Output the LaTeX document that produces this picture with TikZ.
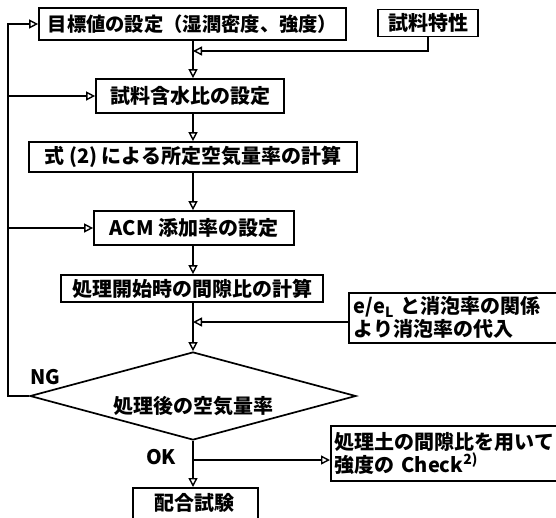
\documentclass[tikz,border=0pt]{standalone}
\usepackage{fontspec}
\setmainfont{Noto Sans CJK JP}
\usetikzlibrary{arrows.meta,shapes.geometric}
\begin{document}
\begin{tikzpicture}[x=1pt,y=-1pt,
 every node/.style={font=\fontsize{20}{23}\selectfont\bfseries},
 box/.style={draw, line width=1.7pt, inner sep=0pt, align=center},
 conn/.style={line width=1.7pt},
 arr/.style={conn,-{Triangle[open,length=9pt,width=9pt,line width=1.4pt]}},
 lbl/.style={inner sep=0pt}]
\useasboundingbox (0,0) rectangle (556,517);
\clip (0,0) rectangle (556,517);
\coordinate (m) at (193,0);
\coordinate (lft) at (8,0);
\node[box, minimum width=307pt, minimum height=32pt, font=\fontsize{19.3}{23}\selectfont\bfseries] (b1) at (192.5,24) {目標値の設定（湿潤密度、強度）};
\node[box, minimum width=100pt, minimum height=27pt] (spec) at (428,23) {試料特性};
\node[box, minimum width=188pt, minimum height=34pt] (b2) at (190,96) {試料含水比の設定};
\node[box, minimum width=328pt, minimum height=30pt] (b3) at (193,157) {式 (2) による所定空気量率の計算};
\node[box, minimum width=200pt, minimum height=34pt] (b4) at (194,228) {ACM 添加率の設定};
\node[box, minimum width=262pt, minimum height=27pt] (b5) at (192,288.5) {処理開始時の間隙比の計算};
\node[box, anchor=north west, text width=212pt, inner xsep=5pt, minimum height=50pt, align=left] (b6) at (348,292) {e/e\textsubscript{L} と消泡率の関係\\より消泡率の代入};
\node[draw, diamond, line width=1.7pt, minimum width=326pt, minimum height=88pt, aspect=3.7, inner sep=0pt] (d) at (193,396) {};
\node[lbl] (dt) at (193,406) {処理後の空気量率};
\node[box, anchor=north west, text width=230pt, inner xsep=4pt, minimum height=55pt, align=left] (b7) at (330,425) {処理土の間隙比を用いて\\強度の Check\textsuperscript{2)}};
\node[box, anchor=north west, minimum width=125pt, minimum height=45pt] (b8) at (132,487) {};
\node[lbl] (b8t) at (194.5,503) {配合試験};
\node[lbl] (ng) at (45,377) {NG};
\node[lbl] (ok) at (161,457) {OK};
\coordinate (j1) at (193,51);
\coordinate (j2) at (193,322);
\coordinate (j3) at (193,460);
\draw[arr] (b1.south -| m) -- (b2.north -| m);
\draw[arr] (spec.south) |- (j1);
\draw[arr] (b2.south -| m) -- (b3.north -| m);
\draw[arr] (b3.south -| m) -- (b4.north -| m);
\draw[arr] (b4.south -| m) -- (b5.north -| m);
\draw[arr] (b5.south -| m) -- (d.north);
\draw[arr] (b6.west |- j2) -- (j2);
\draw[arr] (d.west) -- (d.west -| lft) -- (lft |- b1.west) -- (b1.west);
\draw[arr] (lft |- b2.west) -- (b2.west);
\draw[arr] (lft |- b4.west) -- (b4.west);
\draw[arr] (j3) -- (j3 -| b7.west);
\draw[arr] (d.south) -- (b8.north -| d.south);
\end{tikzpicture}
\end{document}
